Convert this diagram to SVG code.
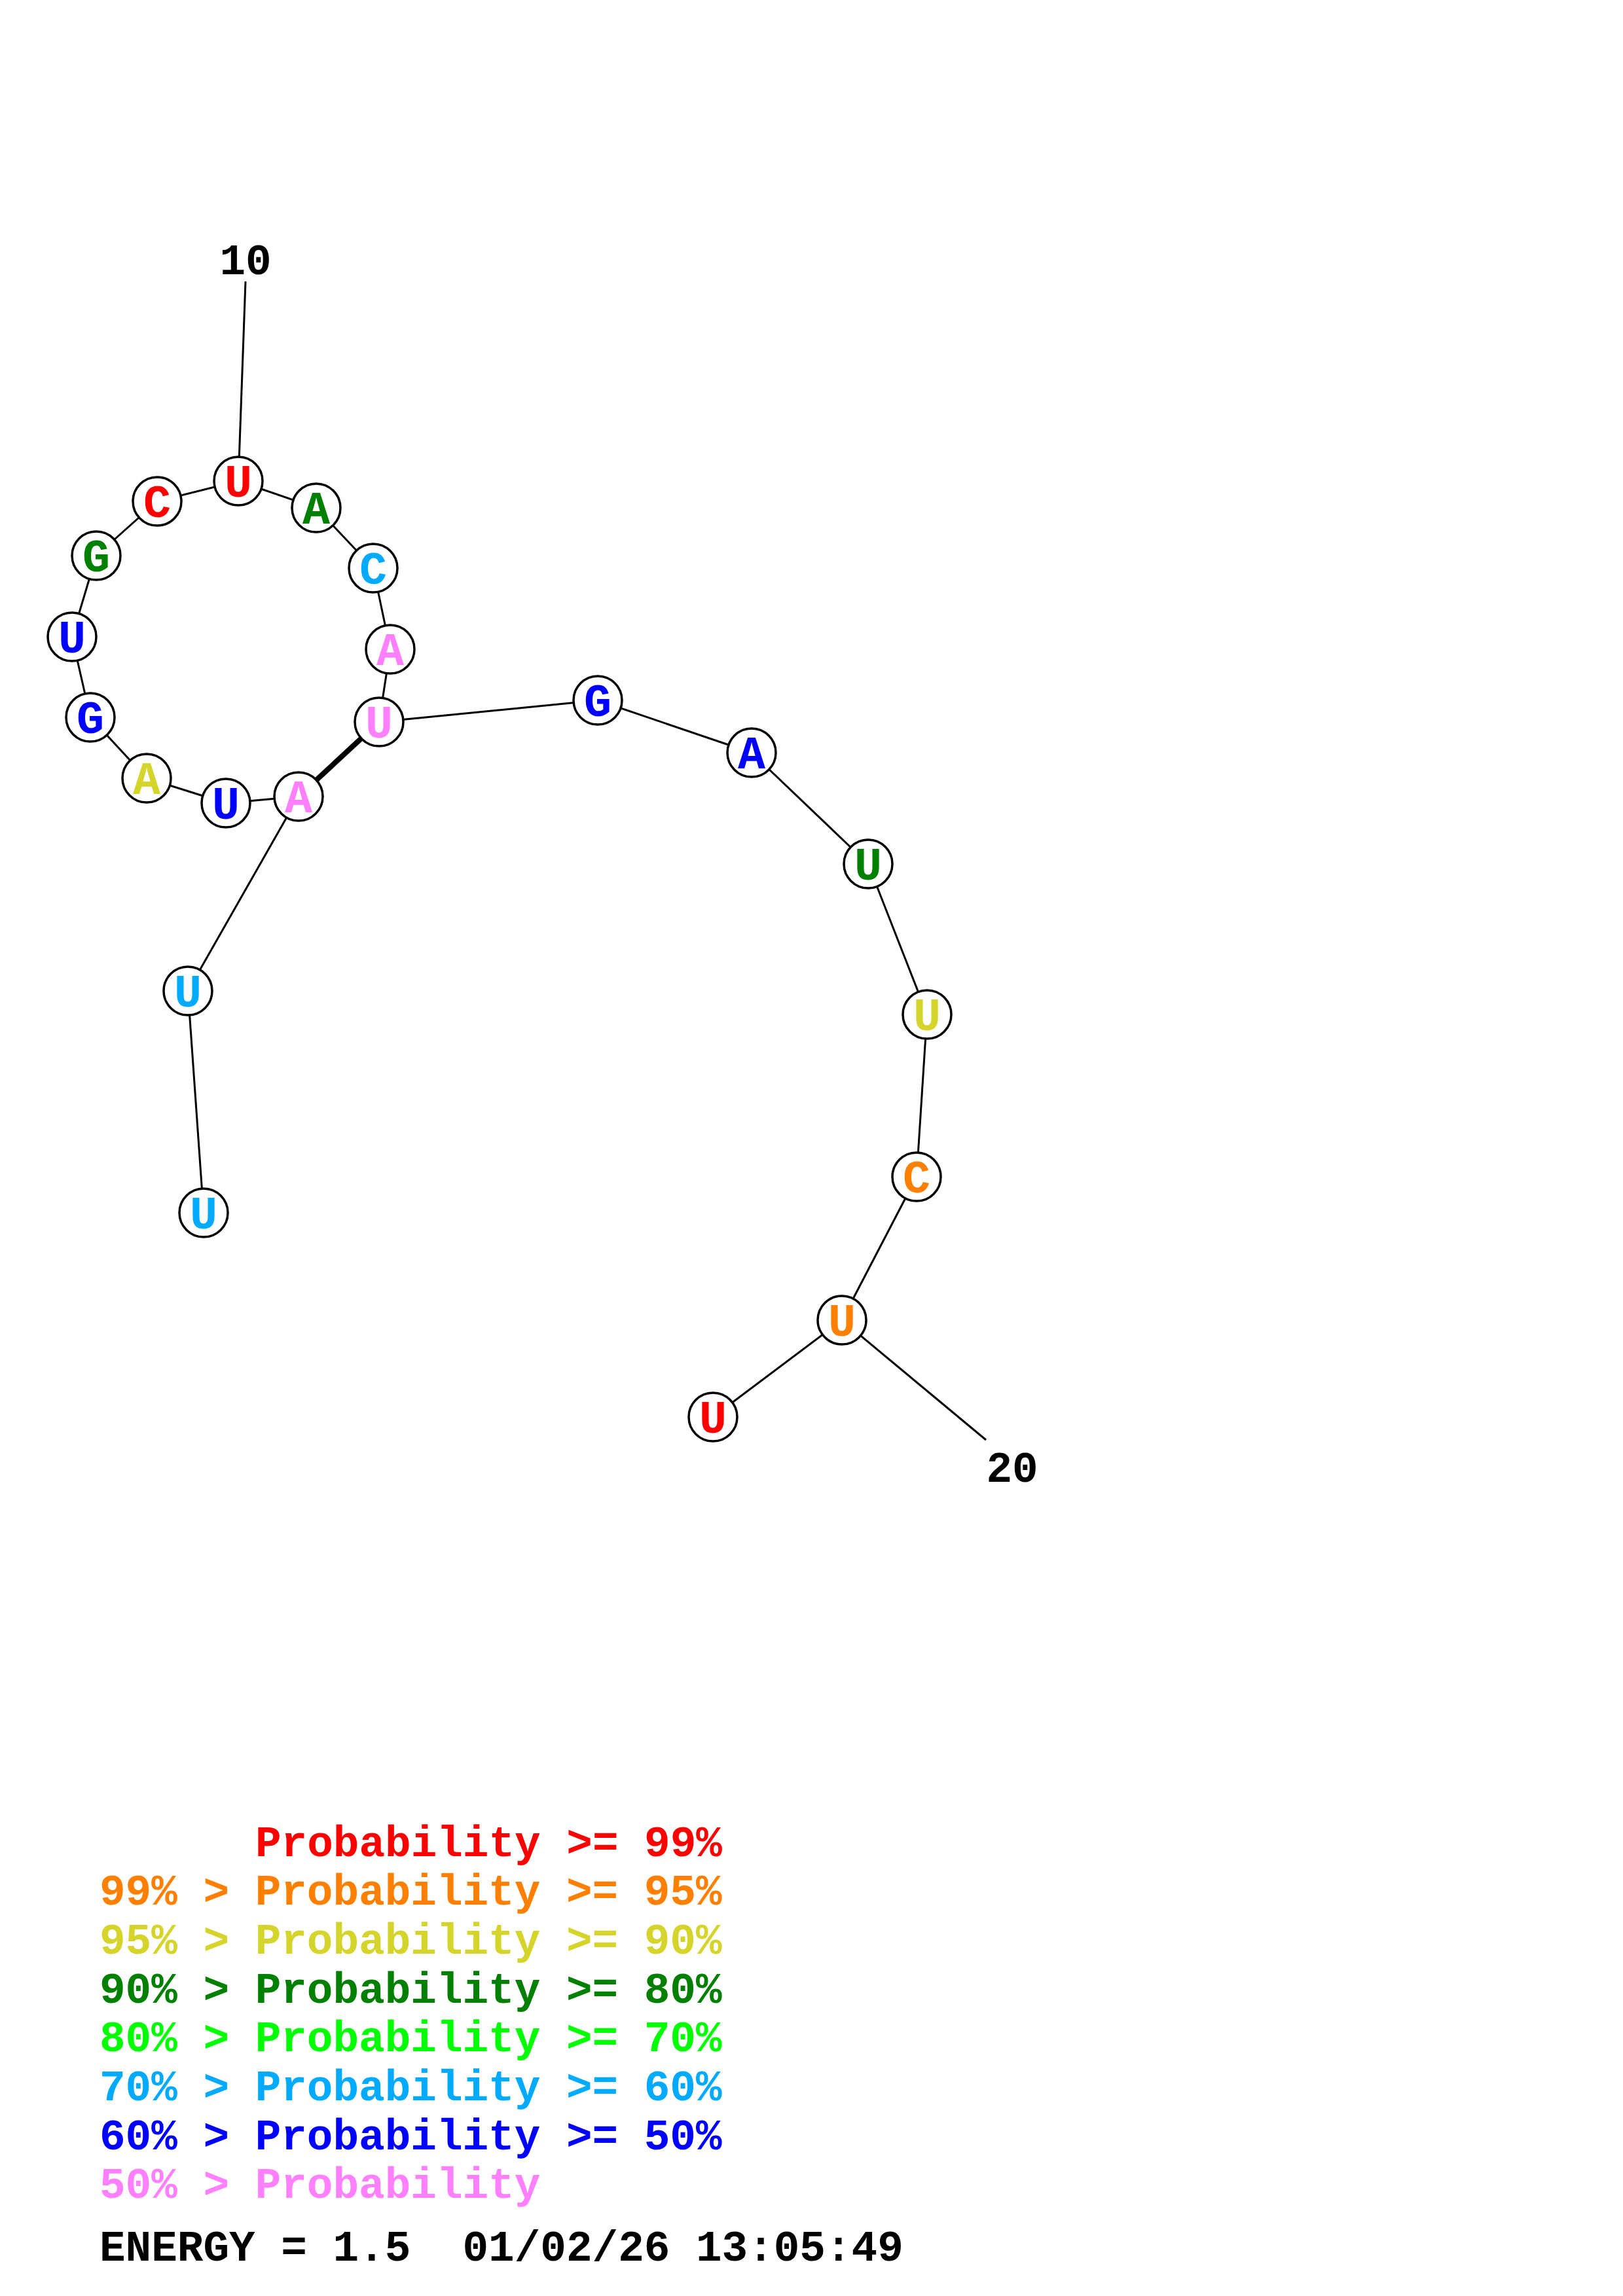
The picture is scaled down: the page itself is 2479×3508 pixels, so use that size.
<svg xmlns="http://www.w3.org/2000/svg" width="2479" height="3508" viewBox="0 0 2479 3508">
<style>
.e{stroke:#000;stroke-width:3;fill:none}
.t{stroke:#000;stroke-width:8;fill:none}
.n circle{fill:#fff;stroke:#000;stroke-width:3.5}
.n text{font-family:"Liberation Mono",monospace;font-weight:bold;font-size:70px;text-anchor:middle}
.lab{font-family:"Liberation Mono",monospace;font-weight:bold;font-size:66px;fill:#000}
.lg{font-family:"Liberation Mono",monospace;font-weight:bold;font-size:66px;white-space:pre}
</style>
<rect width="2479" height="3508" fill="#fff"/>
<g id="connectors">
<line class="e" x1="375" y1="430" x2="364" y2="735"/>
<line class="e" x1="364" y1="735" x2="483" y2="776"/>
<line class="e" x1="483" y1="776" x2="570" y2="868"/>
<line class="e" x1="570" y1="868" x2="596" y2="992"/>
<line class="e" x1="596" y1="992" x2="579" y2="1103"/>
<line class="e" x1="579" y1="1103" x2="913" y2="1070"/>
<line class="e" x1="913" y1="1070" x2="1148" y2="1150"/>
<line class="e" x1="1148" y1="1150" x2="1326" y2="1320"/>
<line class="e" x1="1326" y1="1320" x2="1416" y2="1550"/>
<line class="e" x1="1416" y1="1550" x2="1400" y2="1798"/>
<line class="e" x1="1400" y1="1798" x2="1286" y2="2017"/>
<line class="e" x1="1286" y1="2017" x2="1089" y2="2165"/>
<line class="e" x1="1286" y1="2017" x2="1506" y2="2200"/>
<line class="e" x1="364" y1="735" x2="240" y2="766"/>
<line class="e" x1="240" y1="766" x2="147" y2="849"/>
<line class="e" x1="147" y1="849" x2="110" y2="973"/>
<line class="e" x1="110" y1="973" x2="138" y2="1096"/>
<line class="e" x1="138" y1="1096" x2="224" y2="1189"/>
<line class="e" x1="224" y1="1189" x2="345" y2="1227"/>
<line class="e" x1="345" y1="1227" x2="456" y2="1217"/>
<line class="t" x1="456" y1="1217" x2="579" y2="1103"/>
<line class="e" x1="456" y1="1217" x2="287" y2="1514"/>
<line class="e" x1="287" y1="1514" x2="311" y2="1853"/>
</g>
<g id="n1" class="n"><circle cx="364" cy="735" r="37"/><text x="364" y="759" fill="#FF0000">U</text></g>
<g id="n2" class="n"><circle cx="483" cy="776" r="37"/><text x="483" y="800" fill="#008000">A</text></g>
<g id="n3" class="n"><circle cx="570" cy="868" r="37"/><text x="570" y="892" fill="#00AAFF">C</text></g>
<g id="n4" class="n"><circle cx="596" cy="992" r="37"/><text x="596" y="1016" fill="#FF80FF">A</text></g>
<g id="n5" class="n"><circle cx="579" cy="1103" r="37"/><text x="579" y="1127" fill="#FF80FF">U</text></g>
<g id="n6" class="n"><circle cx="913" cy="1070" r="37"/><text x="913" y="1094" fill="#0000FF">G</text></g>
<g id="n7" class="n"><circle cx="1148" cy="1150" r="37"/><text x="1148" y="1174" fill="#0000FF">A</text></g>
<g id="n8" class="n"><circle cx="1326" cy="1320" r="37"/><text x="1326" y="1344" fill="#008000">U</text></g>
<g id="n9" class="n"><circle cx="1416" cy="1550" r="37"/><text x="1416" y="1574" fill="#D4D42A">U</text></g>
<g id="n10" class="n"><circle cx="1400" cy="1798" r="37"/><text x="1400" y="1822" fill="#FF8000">C</text></g>
<g id="n11" class="n"><circle cx="1286" cy="2017" r="37"/><text x="1286" y="2041" fill="#FF8000">U</text></g>
<g id="n12" class="n"><circle cx="1089" cy="2165" r="37"/><text x="1089" y="2189" fill="#FF0000">U</text></g>
<g id="n13" class="n"><circle cx="240" cy="766" r="37"/><text x="240" y="790" fill="#FF0000">C</text></g>
<g id="n14" class="n"><circle cx="147" cy="849" r="37"/><text x="147" y="873" fill="#008000">G</text></g>
<g id="n15" class="n"><circle cx="110" cy="973" r="37"/><text x="110" y="997" fill="#0000FF">U</text></g>
<g id="n16" class="n"><circle cx="138" cy="1096" r="37"/><text x="138" y="1120" fill="#0000FF">G</text></g>
<g id="n17" class="n"><circle cx="224" cy="1189" r="37"/><text x="224" y="1213" fill="#D4D42A">A</text></g>
<g id="n18" class="n"><circle cx="345" cy="1227" r="37"/><text x="345" y="1251" fill="#0000FF">U</text></g>
<g id="n19" class="n"><circle cx="456" cy="1217" r="37"/><text x="456" y="1241" fill="#FF80FF">A</text></g>
<g id="n20" class="n"><circle cx="287" cy="1514" r="37"/><text x="287" y="1538" fill="#00AAFF">U</text></g>
<g id="n21" class="n"><circle cx="311" cy="1853" r="37"/><text x="311" y="1877" fill="#00AAFF">U</text></g>
<g id="labels">
<text class="lab" x="375" y="419" text-anchor="middle">10</text>
<text class="lab" x="1546" y="2264" text-anchor="middle">20</text>
</g>
<g id="legend">
<text class="lg" x="390" y="2836" fill="#FF0000">Probability &gt;= 99%</text>
<text class="lg" x="152" y="2910" fill="#FF8000">99% &gt; Probability &gt;= 95%</text>
<text class="lg" x="152" y="2985" fill="#D4D42A">95% &gt; Probability &gt;= 90%</text>
<text class="lg" x="152" y="3060" fill="#008000">90% &gt; Probability &gt;= 80%</text>
<text class="lg" x="152" y="3134" fill="#00FF00">80% &gt; Probability &gt;= 70%</text>
<text class="lg" x="152" y="3209" fill="#00AAFF">70% &gt; Probability &gt;= 60%</text>
<text class="lg" x="152" y="3284" fill="#0000FF">60% &gt; Probability &gt;= 50%</text>
<text class="lg" x="152" y="3358" fill="#FF80FF">50% &gt; Probability</text>
<text class="lg" x="152" y="3454" fill="#000">ENERGY = 1.5  01/02/26 13:05:49</text>
</g>
</svg>
